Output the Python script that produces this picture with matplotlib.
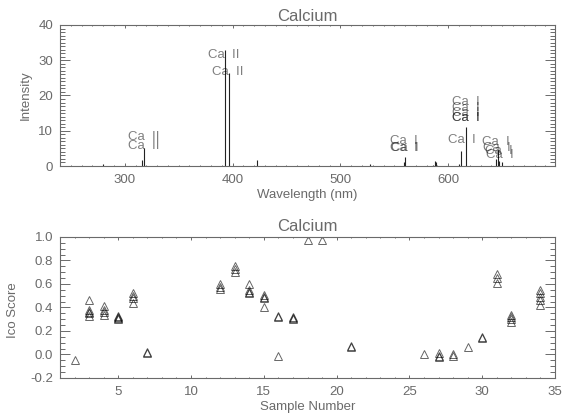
import matplotlib
matplotlib.use('Agg')
import matplotlib.pyplot as plt
from matplotlib.ticker import MultipleLocator, FormatStrFormatter

plt.rcParams['font.family'] = ['Liberation Sans', 'DejaVu Sans']

# emission lines in the spectrum (nm, intensity)
line_wl = [279.5, 315.9, 317.9, 393.4, 396.8, 422.7, 527.0, 558.9, 559.8,
           585.7, 587.5, 589.0, 610.3, 612.2, 616.2, 644.0, 646.3, 647.2, 649.4]
line_int = [0.6, 1.8, 5.0, 33.0, 26.5, 1.8, 0.6, 1.0, 2.6,
            0.4, 1.3, 1.0, 0.7, 4.3, 11.0, 2.0, 4.5, 1.5, 1.0]

# line identifications
label_text = ['Ca  II', 'Ca  II', 'Ca  II', 'Ca  II',
              'Ca  I', 'Ca  I', 'Ca  I', 'Ca  I',
              'Ca  I', 'Ca  I', 'Ca  I', 'Ca  I', 'Ca  I',
              'Ca  I', 'Ca  I', 'Ca  I', 'Ca  I']
label_wl = [317.2, 317.2, 392.2, 396.0,
            559.1, 558.9, 559.4, 612.2,
            616.5, 616.5, 616.5, 616.5, 616.5,
            644.5, 645.5, 646.5, 647.5]
label_y = [8.3, 5.8, 31.5, 26.8,
           7.2, 5.0, 5.0, 7.4,
           18.2, 16.4, 15.0, 13.5, 13.5,
           6.9, 5.0, 4.3, 3.1]

# ICA scores per sample
sample_no = [2,
             3, 3, 3, 3, 3,
             4, 4, 4, 4,
             5, 5, 5, 5,
             6, 6, 6, 6,
             7, 7,
             12, 12, 12,
             13, 13, 13,
             14, 14, 14, 14,
             15, 15, 15, 15,
             16, 16, 16,
             17, 17, 17,
             18, 19,
             21, 21,
             26,
             27, 27, 27,
             28, 28,
             29,
             30, 30,
             31, 31, 31,
             32, 32, 32, 32,
             34, 34, 34, 34, 34]
ico_score = [-0.05,
             0.46, 0.38, 0.36, 0.35, 0.33,
             0.41, 0.38, 0.36, 0.34,
             0.33, 0.32, 0.31, 0.30,
             0.52, 0.50, 0.48, 0.44,
             0.02, 0.01,
             0.60, 0.57, 0.56,
             0.75, 0.73, 0.70,
             0.60, 0.55, 0.53, 0.52,
             0.51, 0.49, 0.48, 0.40,
             0.33, 0.32, -0.01,
             0.32, 0.31, 0.30,
             0.97, 0.97,
             0.07, 0.06,
             0.0,
             0.01, -0.01, -0.02,
             0.0, -0.01,
             0.06,
             0.15, 0.14,
             0.685, 0.65, 0.61,
             0.34, 0.32, 0.30, 0.28,
             0.55, 0.52, 0.49, 0.46, 0.42]

TXT = '#6a6a6a'
AXC = '#6a6a6a'


def idl_axes(ax, xmaj, xmin, ymaj, ymin):
    ax.xaxis.set_major_locator(MultipleLocator(xmaj))
    ax.xaxis.set_minor_locator(MultipleLocator(xmin))
    ax.yaxis.set_major_locator(MultipleLocator(ymaj))
    ax.yaxis.set_minor_locator(MultipleLocator(ymin))
    ax.tick_params(which='both', direction='in', top=True, right=True,
                   colors=AXC, labelcolor=TXT, labelsize=9.5, width=0.7)
    ax.tick_params(axis='x', which='major', length=2.0, pad=5.5)
    ax.tick_params(axis='x', which='minor', length=1.0)
    ax.tick_params(axis='y', which='major', length=7.2, pad=5)
    ax.tick_params(axis='y', which='minor', length=3.6)
    for sp in ax.spines.values():
        sp.set_color(AXC)
        sp.set_linewidth(0.8)


fig = plt.figure(figsize=(5.63, 4.15), dpi=100)
ax1 = fig.add_axes([0.1066, 0.6, 0.8792, 0.3398])
ax2 = fig.add_axes([0.1066, 0.0892, 0.8792, 0.3398])

# spectrum
ax1.vlines(line_wl, 0, line_int, colors='#222222', linewidth=0.8)
for t, x, y in zip(label_text, label_wl, label_y):
    ax1.text(x, y, t, ha='center', va='center', fontsize=9.5,
             color='black', alpha=0.5)
ax1.set_xlim(240, 699)
ax1.set_ylim(0, 40)
idl_axes(ax1, 100, 10, 10, 1)
ax1.set_title('Calcium', fontsize=12, color=TXT, pad=3)
ax1.set_xlabel('Wavelength (nm)', fontsize=9.5, color=TXT)
ax1.xaxis.set_label_coords(0.5, -0.165)
ax1.set_ylabel('Intensity', fontsize=9.5, color=TXT)
ax1.yaxis.set_label_coords(-0.057, 0.5)

# ICA scores
ax2.plot(sample_no, ico_score, linestyle='none', marker='^', markersize=5.5,
         markerfacecolor='none', markeredgecolor='black',
         markeredgewidth=0.7, alpha=0.6)
ax2.set_xlim(1, 35)
ax2.set_ylim(-0.2, 1.0)
idl_axes(ax2, 5, 1, 0.2, 0.05)
ax2.yaxis.set_major_formatter(FormatStrFormatter('%.1f'))
ax2.set_title('Calcium', fontsize=12, color=TXT, pad=4.5)
ax2.set_xlabel('Sample Number', fontsize=9.5, color=TXT)
ax2.xaxis.set_label_coords(0.5, -0.16)
ax2.set_ylabel('Ico Score', fontsize=9.5, color=TXT)
ax2.yaxis.set_label_coords(-0.082, 0.48)

fig.savefig('out.png', dpi=100)
